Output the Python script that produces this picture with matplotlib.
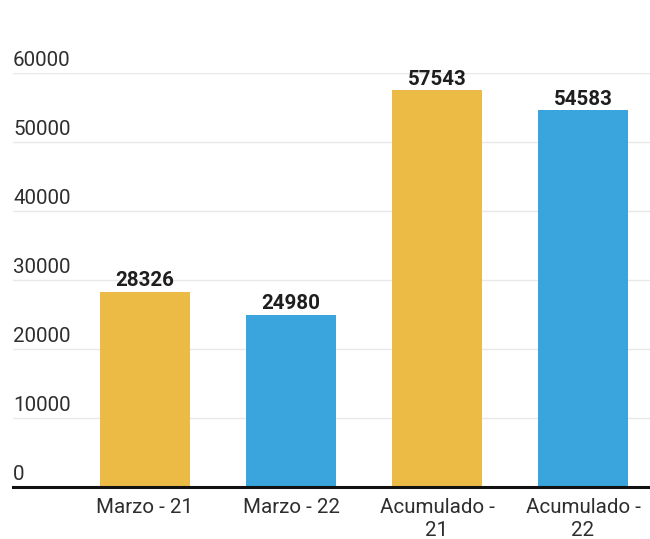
import matplotlib.pyplot as plt
import matplotlib.transforms as mtransforms

categories = ['Marzo - 21', 'Marzo - 22', 'Acumulado -\n21', 'Acumulado -\n22']
values = [28326, 24980, 57543, 54583]
colors = ['#EBBB45', '#3AA4DC', '#EBBB45', '#3AA4DC']
yticks = [0, 10000, 20000, 30000, 40000, 50000, 60000]

plt.rcParams['font.family'] = ['Roboto', 'DejaVu Sans']

fig = plt.figure(figsize=(6.5, 5.39), dpi=100)
ax = fig.add_axes([0.02, 0.0965, 0.98, 0.768])

x = range(len(categories))
bars = ax.bar(x, values, width=0.62, color=colors, zorder=2)

ax.set_xlim(-0.904, 3.459)
ax.set_ylim(0, 60000)

for y in yticks[1:]:
    ax.axhline(y, color='#e8e8e8', linewidth=1, zorder=1)
ax.axhline(0, color='#111111', linewidth=2.2, zorder=3, clip_on=False)

# y labels sit above the gridlines, left aligned
trans = mtransforms.blended_transform_factory(ax.transAxes, ax.transData)
for y in yticks:
    ax.annotate(str(y), (0, y), xycoords=trans, xytext=(0, 2.5), textcoords='offset points',
                ha='left', va='bottom', fontsize=14.8, color='#2e2e2e')

for b, v in zip(bars, values):
    ax.annotate(str(v), (b.get_x() + b.get_width() / 2, v), xytext=(0, 1),
                textcoords='offset points', ha='center', va='bottom',
                fontsize=14.8, fontweight='bold', color='#1e1e1e')

ax.set_yticks([])
ax.set_xticks(list(x))
ax.set_xticklabels(categories, fontsize=14.8, color='#2e2e2e', linespacing=1.25)
ax.tick_params(axis='x', length=0, pad=8)
for s in ax.spines.values():
    s.set_visible(False)

fig.savefig('out.png', dpi=100)
